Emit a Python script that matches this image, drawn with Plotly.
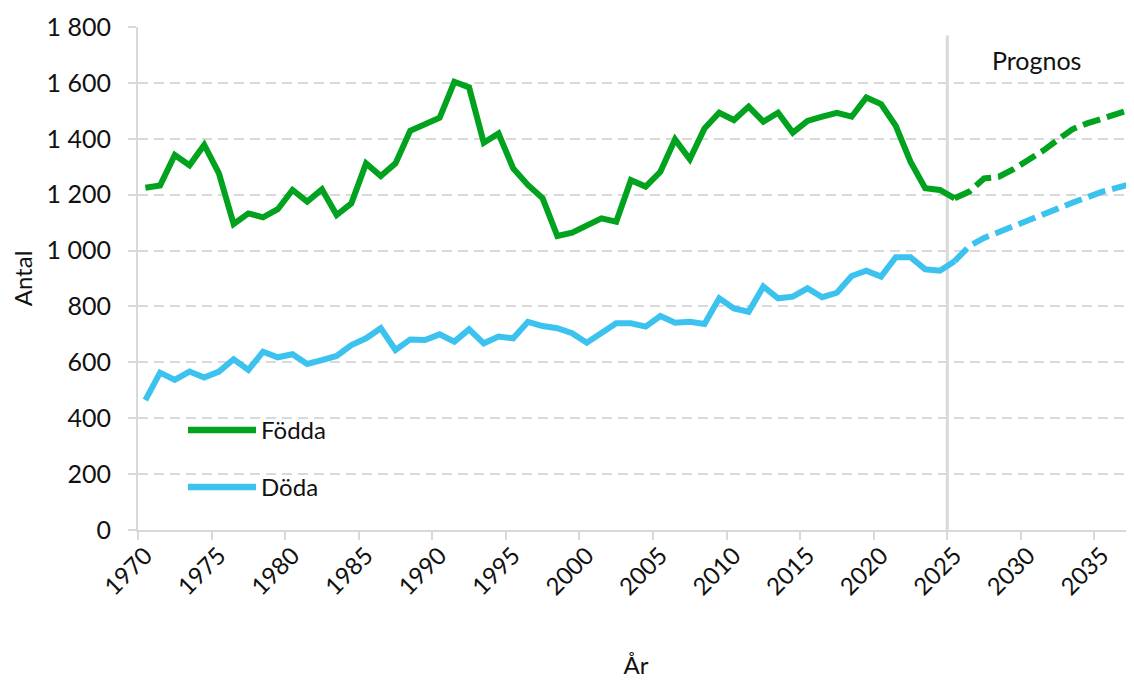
import plotly.graph_objects as go

# ---------------- data ----------------
years_hist = list(range(1970, 2026))
fodda_hist = [1225, 1233, 1342, 1305, 1378, 1276, 1095, 1133, 1119, 1148,
              1217, 1175, 1219, 1127, 1169, 1312, 1267, 1312, 1429, 1455,
              1475, 1604, 1584, 1386, 1419, 1294, 1235, 1187, 1052, 1064,
              1089, 1115, 1103, 1252, 1229, 1282, 1398, 1327, 1437, 1493,
              1467, 1515, 1461, 1493, 1422, 1464, 1479, 1493, 1479, 1548,
              1524, 1446, 1318, 1223, 1217, 1187]
doda_hist = [465, 563, 537, 567, 546, 567, 611, 573, 638, 618,
             629, 594, 608, 623, 662, 686, 722, 644, 682, 680,
             700, 674, 718, 668, 692, 686, 745, 730, 722, 704,
             670, 704, 740, 740, 728, 766, 742, 745, 737, 829,
             793, 781, 871, 829, 835, 865, 833, 849, 909, 928,
             907, 976, 976, 933, 928, 962]

years_prog = list(range(2025, 2038))
fodda_prog = [1187, 1211, 1258, 1264, 1291, 1322, 1357, 1396, 1434, 1455, 1473, 1491, 1505]
doda_prog = [962, 1016, 1045, 1065, 1088, 1107, 1128, 1150, 1171, 1191, 1210, 1224, 1238]

x_ticks = list(range(1970, 2040, 5))
y_ticks = list(range(0, 2000, 200))
y_labels = ["0" if v == 0 else f"{v:,}".replace(",", " ") for v in y_ticks]
prognos_start = 2024.5

# ---------------- style ----------------
GREEN = "#00A21E"
BLUE = "#3CC2EF"
GRID = "#d9d9d9"
TXT = "#111111"
FONT = "Lato"
LW = 6
DASH = "18px,7px"

fig = go.Figure()
fig.add_trace(go.Scatter(x=years_hist, y=fodda_hist, mode="lines", name="Födda",
                         line=dict(color=GREEN, width=LW), showlegend=False))
fig.add_trace(go.Scatter(x=years_prog, y=fodda_prog, mode="lines", name="Födda (prognos)",
                         line=dict(color=GREEN, width=LW, dash=DASH), showlegend=False))
fig.add_trace(go.Scatter(x=years_hist, y=doda_hist, mode="lines", name="Döda",
                         line=dict(color=BLUE, width=LW), showlegend=False))
fig.add_trace(go.Scatter(x=years_prog, y=doda_prog, mode="lines", name="Döda (prognos)",
                         line=dict(color=BLUE, width=LW, dash=DASH), showlegend=False))

# prognos divider
fig.add_shape(type="line", x0=prognos_start, x1=prognos_start, y0=0, y1=1770,
              xref="x", yref="y", line=dict(color=GRID, width=3), layer="below")
fig.add_annotation(x=0.9026, y=1.0, xref="paper", yref="paper", yshift=-33,
                   xanchor="center", yanchor="middle",
                   text="Prognos", showarrow=False,
                   font=dict(family=FONT, size=25, color=TXT))

# manual legend
legend_items = [("Födda", GREEN, 0.199), ("Döda", BLUE, 0.0855)]
for label, color, yp in legend_items:
    fig.add_shape(type="line", xref="paper", yref="paper", x0=0.0502, x1=0.1185,
                  y0=yp, y1=yp, line=dict(color=color, width=6.5))
    fig.add_annotation(x=0.1215, y=yp, xref="paper", yref="paper", text=label,
                       showarrow=False, xanchor="left", yanchor="middle",
                       font=dict(family=FONT, size=24, color=TXT))

# page body has an 8px margin, so the figure is shrunk by that amount
fig.update_layout(
    width=1126, height=672,
    margin=dict(l=130, r=0, t=19, b=150),
    paper_bgcolor="white", plot_bgcolor="white",
    font=dict(family=FONT, size=24, color=TXT),
    xaxis=dict(
        range=[1969.5, 2037.19],
        tickmode="array", tickvals=x_ticks, ticktext=[str(v) for v in x_ticks],
        tickangle=-45, ticks="", showgrid=False,
        showline=True, linecolor=GRID, linewidth=2,
        minor=dict(tickmode="array", tickvals=[v - 0.5 for v in x_ticks],
                   ticks="outside", ticklen=8, tickcolor=GRID, tickwidth=2, showgrid=False),
        title=dict(text="År", standoff=58, font=dict(family=FONT, size=24, color=TXT)),
        tickfont=dict(family=FONT, size=24, color=TXT),
        zeroline=False,
    ),
    yaxis=dict(
        range=[0, 1800],
        tickmode="array", tickvals=y_ticks, ticktext=y_labels,
        ticks="outside", ticklen=8, tickcolor=GRID, tickwidth=2,
        ticklabelstandoff=12,
        showgrid=True, gridcolor=GRID, gridwidth=2, griddash="10px,6px",
        showline=True, linecolor=GRID, linewidth=2,
        title=dict(text="Antal", standoff=10, font=dict(family=FONT, size=24, color=TXT)),
        tickfont=dict(family=FONT, size=25, color=TXT),
        zeroline=False,
    ),
)

fig.write_html("out.html")
